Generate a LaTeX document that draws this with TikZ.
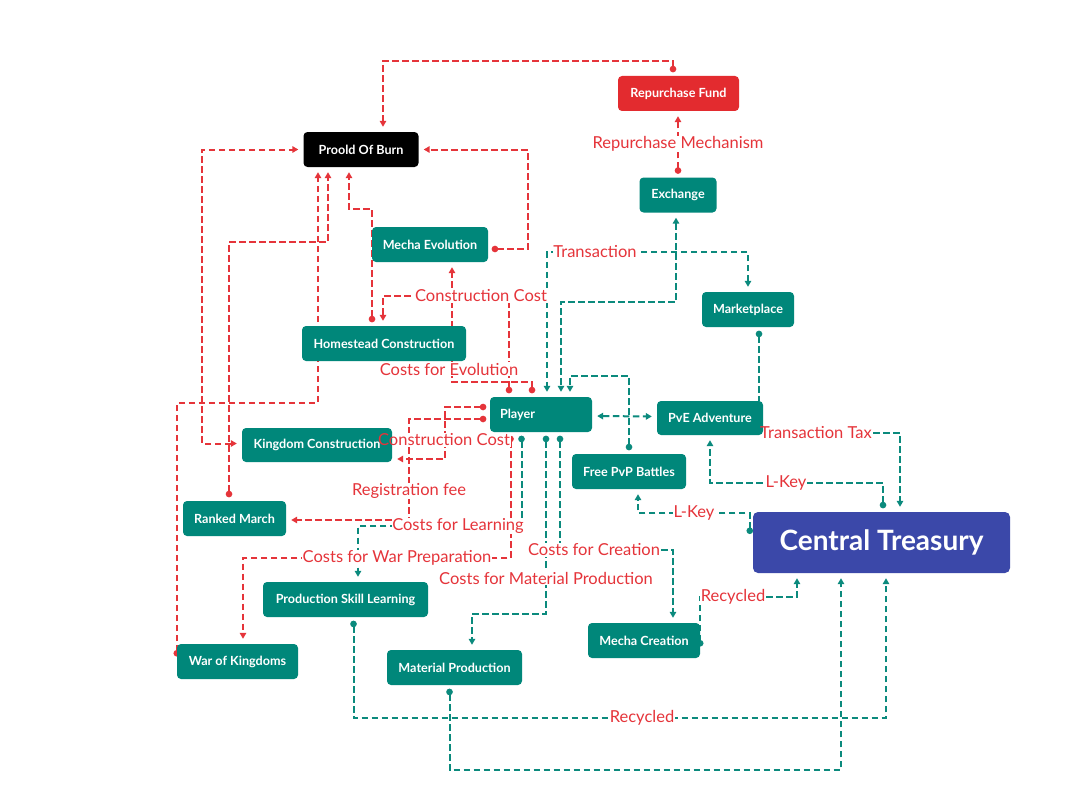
\documentclass[tikz,border=0pt]{standalone}
\usepackage{fontspec}
\setmainfont{Lato}
\usetikzlibrary{arrows.meta,calc}
\definecolor{tgreen}{HTML}{00877A}
\definecolor{tline}{HTML}{0B8A7D}
\definecolor{tred}{HTML}{E32B2F}
\definecolor{lred}{HTML}{E5343A}
\definecolor{tblue}{HTML}{3B48A9}
\pgfdeclarelayer{paper}
\pgfdeclarelayer{bg}
\pgfdeclarelayer{knock}
\pgfdeclarelayer{lab}
\pgfsetlayers{paper,bg,knock,main,lab}
\tikzset{
  box/.style={rectangle, rounded corners=4pt, fill=tgreen, text=white,
    font=\fontsize{12.6}{14}\selectfont\bfseries, inner xsep=3pt, inner ysep=0pt,
    minimum height=35pt, align=center},
  rl/.style={draw=lred, line width=2pt, dash pattern=on 6.5pt off 3.5pt},
  gl/.style={draw=tline, line width=2pt, dash pattern=on 6.5pt off 3.5pt},
  dotarr/.style={{Circle[length=6.5pt]}-{Triangle[length=6pt,width=6.5pt]}, shorten <=3.5pt, shorten >=5pt},
  dotonly/.style={{Circle[length=6.5pt]}-, shorten <=3.5pt},
  arrend/.style={-{Triangle[length=6pt,width=6.5pt]}, shorten >=5pt},
  arrtwo/.style={{Triangle[length=6pt,width=6.5pt]}-{Triangle[length=6pt,width=6.5pt]}, shorten <=5pt, shorten >=5pt},
  lab/.style={text=lred, inner sep=0.5pt, font=\fontsize{16.5}{18}\selectfont},
  knockout/.style={fill=white}
}
\begin{document}
\begin{tikzpicture}[x=1pt,y=-1pt]
\useasboundingbox (0,0) rectangle (1080,800);
\begin{pgfonlayer}{paper}
\fill[white] (0,0) rectangle (1080,800);
\end{pgfonlayer}
% nodes
\node[box, fill=tred, minimum width=121pt] (rf) at (678.5,93.5) {Repurchase Fund};
\node[box, fill=black, minimum width=115pt] (pob) at (361,149.5) {Proold Of Burn};
\node[box, minimum width=77pt] (ex) at (678,195) {Exchange};
\node[box, minimum width=116pt] (me) at (430,244.5) {Mecha Evolution};
\node[box, minimum width=92pt] (mp) at (748,309.5) {Marketplace};
\node[box, minimum width=164pt] (hc) at (384,343.5) {Homestead Construction};
\node[box, inner xsep=10pt, text width=82pt, align=left] (pl) at (541,414.5) {Player};
\node[box, minimum width=106pt, minimum height=34pt] (pve) at (710,418) {PvE Adventure};
\node[box, minimum width=150pt, minimum height=34pt] (kc) at (317,445) {Kingdom Construction};
\node[box, minimum width=114pt] (pvp) at (629,471.5) {Free PvP Battles};
\node[box, minimum width=103pt] (rm) at (234.5,518.5) {Ranked March};
\node[box, fill=tblue, minimum width=257pt, minimum height=61pt, rounded corners=5pt,
  font=\fontsize{28}{32}\selectfont\bfseries] (ct) at (881.5,542.5) {Central Treasury};
\node[box, minimum width=165pt] (psl) at (345.5,599.5) {Production Skill Learning};
\node[box, minimum width=112pt] (mc) at (644,640.5) {Mecha Creation};
\node[box, minimum width=121pt] (wk) at (237.5,661.5) {War of Kingdoms};
\node[box, minimum width=135pt] (mat) at (454.5,667.5) {Material Production};

\begin{pgfonlayer}{bg}
% red connectors
\draw[rl,dotarr] ($(rf.north)+(-5.5,0)$) |- (383,61) -- ($(pob.north)+(22,0)$);
\draw[rl,dotarr] (ex.north) -- (ex.north |- rf.south);
\draw[rl,dotarr] ($(me.east)+(0,4.5)$) -| ($(pob.east)+(109,0)$) -- (pob.east);
\draw[rl,dotarr] ($(hc.north)+(-12,0)$) -- (372,209) -| ($(pob.south)+(-12,0)$);
\draw[rl,dotarr] ($(pl.north)+(-32,0)$) |- (383,296) -- ($(hc.north)+(-1,0)$);
\draw[rl,dotarr] ($(pl.north)+(-9,0)$) |- (452,382) -- ($(me.south)+(22,0)$);
\draw[rl,dotarr] ($(pl.west)+(0,-7.5)$) -| (445,459) -- ($(kc.east)+(0,14)$);
\draw[rl,dotarr] ($(pl.west)+(0,4.5)$) -| (409,520) -- ($(rm.east)+(0,1.5)$);
\draw[rl,arrtwo] ($(kc.west)+(0,-1.5)$) -| (202,149.5) -- (pob.west);
\draw[rl,dotarr] ($(rm.north)+(-5.5,0)$) |- (328,242) -- ($(pob.south)+(-33,0)$);
\draw[rl,dotarr,shorten <=0pt] ($(wk.west)+(0,-5)$) |- (318,403) -- ($(pob.south)+(-43,0)$);
\draw[rl,dotarr] ($(pl.south)+(-30.5,0)$) |- (243,558) -- ($(wk.north)+(5.5,0)$);
% green connectors
\draw[gl,arrtwo] ($(ex.south)+(-2,0)$) |- (561,302) -- ($(pl.north)+(20,0)$);
\draw[gl,arrtwo] (mp.north) |- (547,252) -- ($(pl.north)+(6,0)$);
\draw[gl,dotarr] (pvp.north) |- (570,376) -- ($(pl.north)+(29,0)$);
\draw[gl,arrtwo] ($(pl.east)+(0,1.5)$) -- ($(pve.west)+(0,-1.5)$);
\draw[gl,dotonly] ($(mp.south)+(11,0)$) -- ($(pve.north)+(49,0)$);
\draw[gl,arrend] ($(pve.east)+(0,15)$) -| ($(ct.north)+(18.5,0)$);
\draw[gl,dotarr] ($(ct.north)+(1.5,0)$) |- (710,483) -- (pve.south);
\draw[gl,dotarr,shorten <=0pt] ($(ct.west)+(-3,-8.5)$) |- (638,513) -- ($(pvp.south)+(9,0)$);
\draw[gl,dotarr] ($(pl.south)+(-19.5,0)$) |- (358,526) -- ($(psl.north)+(12.5,0)$);
\draw[gl,dotarr] ($(pl.south)+(5,0)$) |- (472,614) -- ($(mat.north)+(17.5,0)$);
\draw[gl,dotarr] ($(pl.south)+(19,0)$) |- (673,550) -- ($(mc.north)+(29,0)$);
\draw[gl,dotarr,shorten <=0pt] ($(mc.east)+(0,6)$) |- (797,597) -- ($(ct.south)+(-84.5,0)$);
\draw[gl,dotarr] ($(psl.south)+(8,0)$) |- (886,718) -- ($(ct.south)+(4.5,0)$);
\draw[gl,dotarr] ($(mat.south)+(-5,0)$) |- (841,770) -- ($(ct.south)+(-40.5,0)$);
\end{pgfonlayer}

\begin{pgfonlayer}{lab}
\node[lab] (l1) at (678,144) {Repurchase Mechanism};
\node[lab] (l2) at (481,296) {Construction Cost};
\node[lab] (l3) at (449,369) {Costs for Evolution};
\node[lab] (l4) at (444,440) {Construction Cost};
\node[lab] (l5) at (409,491) {Registration fee};
\node[lab] (l6) at (397,558) {Costs for War Preparation};
\node[lab] (l7) at (595,252) {Transaction};
\node[lab] (l8) at (816,433) {Transaction Tax};
\node[lab] (l9) at (786,483) {L-Key};
\node[lab] (l10) at (694,513) {L-Key};
\node[lab] (l11) at (458,526) {Costs for Learning};
\node[lab] (l12) at (546,578) {Costs for Material Production};
\node[lab] (l13) at (594,550) {Costs for Creation};
\node[lab] (l14) at (733,597) {Recycled};
\node[lab] (l15) at (642,718) {Recycled};
\end{pgfonlayer}

\begin{pgfonlayer}{knock}
\foreach \l in {l1,l2,l3,l4,l5,l6,l7,l8,l9,l10,l11,l12,l13,l14,l15}
  \fill[knockout] (\l.south west) rectangle (\l.north east);
\end{pgfonlayer}
\end{tikzpicture}
\end{document}
